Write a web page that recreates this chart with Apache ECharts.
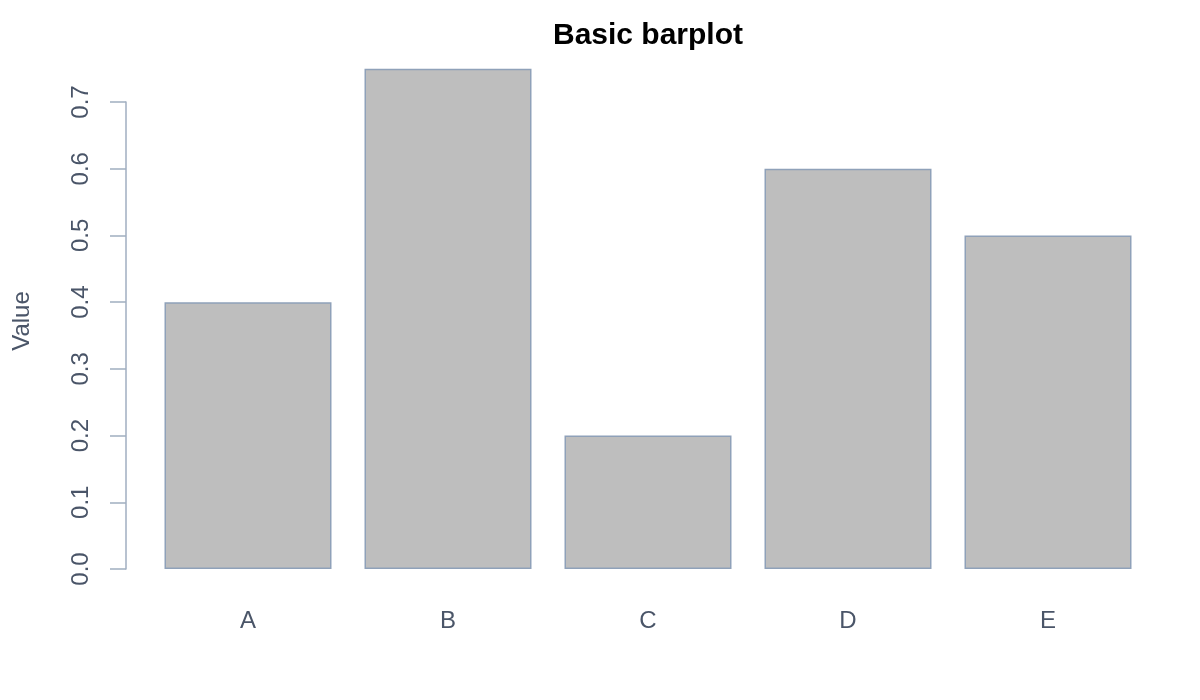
<!DOCTYPE html>
<html>
<head>
<meta charset="utf-8">
<script src="https://cdn.jsdelivr.net/npm/echarts@6/dist/echarts.min.js"></script>
<style>
  html, body { margin: 0; padding: 0; background: #fff; }
  #chart { width: 1200px; height: 700px; }
</style>
</head>
<body>
<div id="chart"></div>
<script>
const categories = ['A', 'B', 'C', 'D', 'E']
const values = [0.4, 0.75, 0.2, 0.6, 0.5]
const yTicks = { min: 0, max: 0.7, step: 0.1 }

const textColor = '#4a5568'
const lineColor = '#a0aec0'
const font = 'Liberation Sans, Arial, Helvetica, sans-serif'

const chart = echarts.init(document.getElementById('chart'), null, { renderer: 'canvas' })

chart.setOption({
  animation: false,
  title: {
    text: 'Basic barplot',
    left: 643,
    textAlign: 'center',
    top: 16,
    textStyle: { fontFamily: font, fontSize: 30, fontWeight: 'bold', color: '#000' }
  },
  grid: { left: 148, right: 52, top: 102, bottom: 131 },
  xAxis: {
    type: 'category',
    data: categories,
    axisLine: { show: false },
    axisTick: { show: false },
    axisLabel: { color: textColor, fontSize: 24, fontFamily: font, margin: 40 }
  },
  yAxis: {
    type: 'value',
    min: yTicks.min,
    max: yTicks.max,
    interval: yTicks.step,
    offset: 22,
    splitLine: { show: false },
    axisLine: { show: true, lineStyle: { color: lineColor, width: 1.5 } },
    axisTick: { show: true, length: 16, lineStyle: { color: lineColor, width: 1.5 } },
    axisLabel: {
      color: textColor,
      fontSize: 24,
      fontFamily: font,
      rotate: 90,
      margin: 33,
      formatter: v => v.toFixed(1)
    }
  },
  graphic: [{
    type: 'text',
    x: 22,
    y: 321,
    rotation: Math.PI / 2,
    style: {
      text: 'Value',
      fill: textColor,
      font: '24px ' + font,
      align: 'center',
      verticalAlign: 'middle'
    }
  }],
  series: [{
    type: 'bar',
    data: values,
    barWidth: 167,
    clip: false,
    itemStyle: { color: '#bebebe', borderColor: '#8fa1b9', borderWidth: 1.5 }
  }]
})
</script>
</body>
</html>
